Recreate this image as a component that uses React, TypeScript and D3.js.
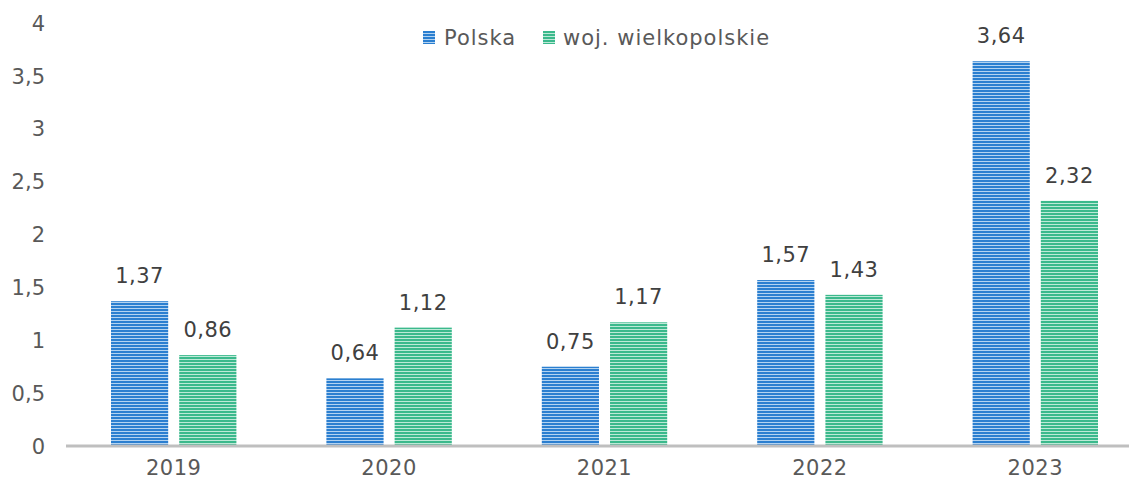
import React from 'react';
import * as d3 from 'd3';

const years = ['2019', '2020', '2021', '2022', '2023'];
const seriesNames = ['Polska', 'woj. wielkopolskie'];
const polska = [1.37, 0.64, 0.75, 1.57, 3.64];
const wielkopolskie = [0.86, 1.12, 1.17, 1.43, 2.32];
const yTicks = [0, 0.5, 1, 1.5, 2, 2.5, 3, 3.5, 4];

const W = 1129;
const H = 489;
const FONT = '"DejaVu Sans", "Noto Sans", sans-serif';
const colors = ['#2b7fd0', '#3bb98c'];
const lights = ['#b3d3f1', '#bde9d7'];

const fmt = (v: number) => String(v).replace('.', ',');

export default function App() {
  const x = d3.scaleBand().domain(years).range([66, 1143]).padding(0);
  const inner = d3
    .scaleBand()
    .domain(seriesNames)
    .range([45, x.bandwidth() - 45])
    .paddingInner(11 / 68);
  const y = d3.scaleLinear().domain([0, 4]).range([446, 23.2]);
  const data = [polska, wielkopolskie];

  return (
    <svg
      width={W}
      height={H}
      style={{ position: 'absolute', left: 0, top: 0 }}
      fontFamily={FONT}
    >
      <defs>
        {colors.map((c, i) => (
          <pattern
            key={i}
            id={`stripe-${i}`}
            patternUnits="userSpaceOnUse"
            width={8}
            height={3}
          >
            <rect width={8} height={3} fill={lights[i]} />
            <rect width={8} height={2} fill={c} />
          </pattern>
        ))}
      </defs>

      {/* y axis labels */}
      {yTicks.map((t) => (
        <text
          key={t}
          x={45}
          y={y(t)}
          dy="0.36em"
          textAnchor="end"
          fontSize={21}
          fill="#595959"
        >
          {fmt(t)}
        </text>
      ))}

      {/* bars */}
      {years.map((yr, i) => (
        <g key={yr} transform={`translate(${x(yr)},0)`}>
          {seriesNames.map((s, j) => {
            const v = data[j][i];
            const bx = inner(s) as number;
            return (
              <g key={s}>
                <rect
                  x={bx}
                  y={y(v)}
                  width={inner.bandwidth()}
                  height={y(0) - y(v)}
                  fill={`url(#stripe-${j})`}
                />
                <text
                  x={bx + inner.bandwidth() / 2}
                  y={y(v) - 18}
                  textAnchor="middle"
                  fontSize={21}
                  letterSpacing={0.5}
                  fill="#404040"
                >
                  {fmt(v)}
                </text>
              </g>
            );
          })}
          <text
            x={x.bandwidth() / 2}
            y={475}
            textAnchor="middle"
            fontSize={21}
            letterSpacing={0.5}
            fill="#595959"
          >
            {yr}
          </text>
        </g>
      ))}

      {/* x axis line */}
      <line x1={66} x2={W} y1={y(0)} y2={y(0)} stroke="#bfbfbf" strokeWidth={3} />

      {/* legend */}
      <g transform="translate(423,31)">
        <rect width={12} height={13} fill="url(#stripe-0)" />
        <text x={21} y={14} fontSize={21} letterSpacing={1} fill="#595959">
          {seriesNames[0]}
        </text>
        <rect x={120} width={12} height={13} fill="url(#stripe-1)" />
        <text x={140} y={14} fontSize={21} letterSpacing={1} fill="#595959">
          {seriesNames[1]}
        </text>
      </g>
    </svg>
  );
}
